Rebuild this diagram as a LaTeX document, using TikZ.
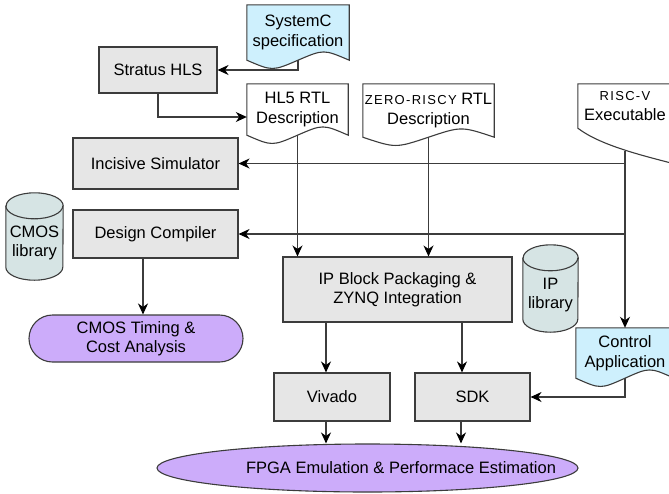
\documentclass[tikz,border=0pt]{standalone}
\usepackage{fontspec}
\setmainfont{Liberation Sans}
\newfontfamily\capsfont[LetterSpace=10]{Liberation Sans}
\usetikzlibrary{shapes.geometric,arrows.meta,calc}
\pgfdeclarelayer{bg}
\pgfsetlayers{bg,main}
\definecolor{toolfill}{RGB}{230,230,230}
\definecolor{docfill}{RGB}{206,240,253}
\definecolor{dbfill}{RGB}{214,228,228}
\definecolor{endfill}{RGB}{204,172,250}
\definecolor{edge}{RGB}{60,60,60}
\newcommand\smallcaps[1]{{\capsfont\fontsize{13}{15}\selectfont #1}}
% document outline behind a node: #1 node, #2 fill
\newcommand\docframe[2]{%
 \begin{pgfonlayer}{bg}
 \path[draw=edge,line width=1.1pt,fill=#2] (#1.south west) -- (#1.north west) -- (#1.north east) -- (#1.south east)
   .. controls ($(#1.south west)!0.75!(#1.south east)+(0pt,11pt)$) .. (#1.south)
   .. controls ($(#1.south west)!0.25!(#1.south east)+(0pt,-11pt)$) .. cycle;
 \end{pgfonlayer}}
% storage outline behind a node: #1 node, #2 half width
\newcommand\dbframe[2]{%
 \begin{pgfonlayer}{bg}
 \path[draw=edge,line width=1.1pt,fill=dbfill] ([yshift=13pt]#1.north west) -- (#1.south west)
   arc[start angle=180,end angle=360,x radius=#2,y radius=13pt] -- ([yshift=13pt]#1.north east)
   arc[start angle=0,end angle=180,x radius=#2,y radius=13pt] -- cycle;
 \draw[edge,line width=1.1pt] ([yshift=13pt]#1.north west) arc[start angle=180,end angle=360,x radius=#2,y radius=13pt];
 \end{pgfonlayer}}
\begin{document}
\begin{tikzpicture}[x=1pt,y=-1pt,
  every node/.style={font=\fontsize{16.5}{19.5}\selectfont},
  tool/.style={draw=edge,line width=1.1pt,fill=toolfill,inner sep=0pt,align=center},
  doc/.style={inner sep=0pt,align=center},
  term/.style={draw=edge,line width=1.1pt,fill=endfill,inner sep=0pt,align=center},
  flow/.style={draw=edge,line width=1.1pt,-{Stealth[length=11pt,width=10pt,inset=3.5pt,color=black]}},
  wire/.style={draw=edge,line width=1.1pt}]
 \useasboundingbox (0,0) rectangle (669,493);
 % inputs
 \node[doc,minimum width=102pt,minimum height=55pt] (sysc) at (298,32.5) {SystemC\\specification};
 \node[doc,minimum width=101pt,minimum height=51pt] (hl5) at (297.5,109.5) {HL5 RTL\\Description};
 \node[doc,minimum width=131pt,minimum height=53pt] (zr) at (428.5,110.5) {\smallcaps{ZERO-RISCY} RTL\\Description};
 \node[doc,minimum width=94pt,minimum height=44pt] (rv) at (625,106) {\smallcaps{RISC-V}\\Executable};
 \node[doc,minimum width=98pt,minimum height=50pt] (ctrl) at (625,353) {Control\\Application};
 \docframe{sysc}{docfill}
 \docframe{hl5}{white}
 \docframe{zr}{white}
 \docframe{ctrl}{docfill}
 \begin{pgfonlayer}{bg}
 \path[draw=edge,line width=1.1pt,fill=white] ([xshift=6pt]rv.north east) -- (rv.north west) -- (rv.south west)
   .. controls (600,145) and (640,155) .. (675,164) -- ([xshift=6pt]rv.north east);
 \end{pgfonlayer}
 \coordinate (rvout) at (625,151);
 % libraries
 \node[doc,minimum width=57pt,minimum height=48pt] (cmoslib) at (34.5,243) {CMOS\\library};
 \node[doc,minimum width=55pt,minimum height=48pt] (iplib) at (550.5,295) {IP\\library};
 \dbframe{cmoslib}{28.5pt}
 \dbframe{iplib}{27.5pt}
 % tools
 \node[tool,minimum width=118pt,minimum height=46pt] (stratus) at (158,70) {Stratus HLS};
 \node[tool,minimum width=165pt,minimum height=51pt] (incis) at (155.5,163.5) {Incisive Simulator};
 \node[tool,minimum width=165pt,minimum height=48pt] (dc) at (155.5,234) {Design Compiler};
 \node[tool,minimum width=229pt,minimum height=65pt] (ipblk) at (397.5,289.5) {IP Block Packaging \&\\ZYNQ Integration};
 \node[tool,minimum width=116pt,minimum height=48pt] (vivado) at (332,397) {Vivado};
 \node[tool,minimum width=115pt,minimum height=48pt] (sdk) at (472.5,397) {SDK};
 % results
 \node[term,rounded corners=23.5pt,minimum width=214pt,minimum height=47pt] (timing) at (136,338.5) {CMOS Timing \&\\Cost Analysis};
 \node[term,ellipse,minimum width=421pt,minimum height=48pt,
   label={[xshift=33.5pt]center:FPGA Emulation \& Performace Estimation}] (fpga) at (367.5,468) {};
 % flow
 \draw[flow] (sysc.south) |- (stratus.east);
 \draw[flow] (stratus.south) |- ([yshift=-7.5pt]hl5.west);
 \draw[flow] (hl5.south) -- (hl5.south |- ipblk.north);
 \draw[flow] (zr.south) -- (zr.south |- ipblk.north);
 \draw[flow] (rvout) -- (rvout |- ctrl.north);
 \draw[flow] (rvout |- incis.east) -- (incis.east);
 \draw[flow] (rvout |- dc.east) -- (dc.east);
 \draw[flow] ([xshift=-12.5pt]dc.south) -- ([xshift=-12.5pt]dc.south |- timing.north);
 \draw[flow] ([xshift=-6pt]vivado.north |- ipblk.south) -- ([xshift=-6pt]vivado.north);
 \draw[flow] ([xshift=-10.5pt]sdk.north |- ipblk.south) -- ([xshift=-10.5pt]sdk.north);
 \draw[flow] ([xshift=-6pt]vivado.south) -- ([xshift=-6pt]vivado.south |- fpga.north);
 \draw[flow] ([xshift=-11.5pt]sdk.south) -- ([xshift=-11.5pt]sdk.south |- fpga.north);
 \draw[flow] (ctrl.south) |- (sdk.east);
\end{tikzpicture}
\end{document}
